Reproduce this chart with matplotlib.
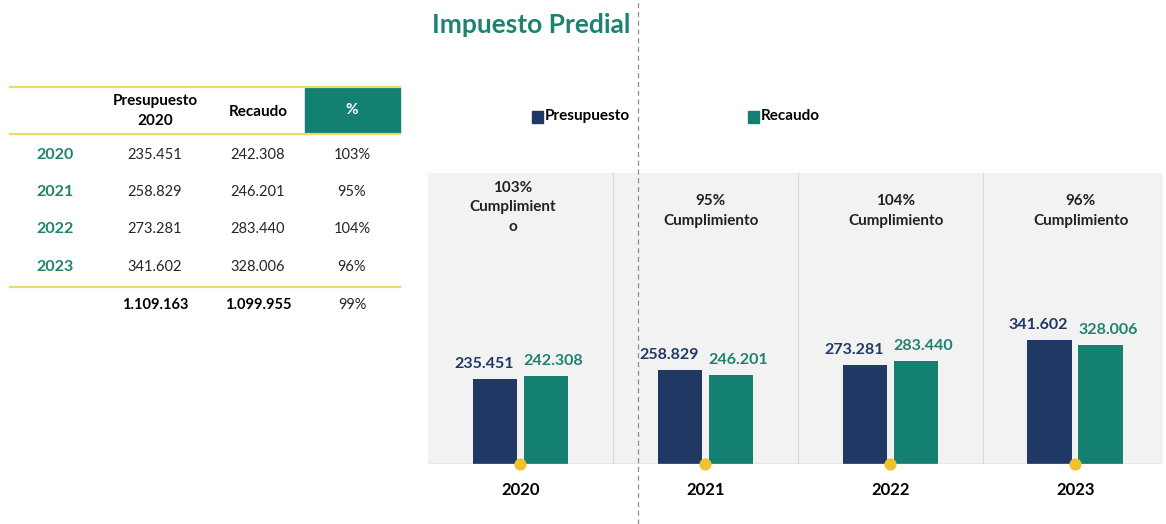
import numpy as np
import matplotlib.pyplot as plt
from matplotlib.lines import Line2D
from matplotlib.patches import Rectangle

plt.rcParams['font.family'] = ['Lato', 'DejaVu Sans']

# data
years = ['2020', '2021', '2022', '2023']
presupuesto = [235.451, 258.829, 273.281, 341.602]
recaudo = [242.308, 246.201, 283.440, 328.006]
cumplimiento = ['103%', '95%', '104%', '96%']
total_presupuesto = '1.109.163'
total_recaudo = '1.099.955'
total_pct = '99%'

NAVY = '#1F3864'
TEAL = '#138071'
TEAL_TXT = '#1E8270'
GOLD = '#F2C12E'
W, H = 1166, 524


def fx(px):
    return px / W


def fy(py):
    return 1 - py / H


def fmt(v):
    return f'{v:.3f}'


fig = plt.figure(figsize=(W / 100, H / 100), dpi=100)

# ---- bar chart
ax = fig.add_axes([fx(428), fy(464), fx(1163) - fx(428), fy(173) - fy(464)])
ax.set_facecolor('#F2F2F2')
x = np.arange(len(years))
bw = 0.24
off = 0.138
ax.bar(x - off, presupuesto, bw, color=NAVY, zorder=2)
ax.bar(x + off, recaudo, bw, color=TEAL, zorder=2)
ax.set_xlim(-0.5, 3.475)
ax.set_ylim(0, 802)
for i in range(len(years)):
    ax.text(x[i] - off - 0.06, presupuesto[i] + 22, fmt(presupuesto[i]), ha='center', va='bottom',
            color=NAVY, fontsize=11.5, fontweight='bold')
    ax.text(x[i] + off + 0.04, recaudo[i] + 22, fmt(recaudo[i]), ha='center', va='bottom',
            color=TEAL_TXT, fontsize=11.5, fontweight='bold')
    if i == 0:
        lbl = cumplimiento[i] + '\nCumplimient\no'
        ax.text(x[i] - 0.04, 707, lbl, ha='center', va='center', fontsize=11,
                fontweight='bold', color='#222222', linespacing=1.5)
    else:
        lbl = cumplimiento[i] + '\nCumplimiento'
        ax.text(x[i] + 0.03, 697, lbl, ha='center', va='center', fontsize=11,
                fontweight='bold', color='#222222', linespacing=1.5)
    if i > 0:
        ax.axvline(i - 0.5, color='#D9D9D9', lw=0.8, zorder=1)
ax.scatter(x, np.zeros(len(x)), s=60, color=GOLD, zorder=4, clip_on=False)
ax.axhline(0, color='#BFBFBF', lw=1, zorder=3)
ax.set_xticks(x)
ax.set_xticklabels(years, fontsize=12, fontweight='bold')
ax.tick_params(axis='x', length=0, pad=13)
ax.set_yticks([])
for s in ax.spines.values():
    s.set_visible(False)

# title and legend
fig.text(fx(432), fy(25), 'Impuesto Predial', fontsize=19, fontweight='bold',
         color=TEAL_TXT, ha='left', va='center')
fig.patches.append(Rectangle((fx(532), fy(123)), fx(11), 12 / H, color=NAVY, transform=fig.transFigure))
fig.text(fx(545), fy(116), 'Presupuesto', fontsize=11, fontweight='bold', va='center')
fig.patches.append(Rectangle((fx(748), fy(123)), fx(11), 12 / H, color=TEAL, transform=fig.transFigure))
fig.text(fx(761), fy(116), 'Recaudo', fontsize=11, fontweight='bold', va='center')

# dashed divider
fig.add_artist(Line2D([fx(638), fx(638)], [0, 1], color='#8C8C8C', lw=0.9, ls=(0, (4, 3))))

# ---- table
fig.patches.append(Rectangle((fx(305), fy(133)), fx(400) - fx(305), 46 / H, color=TEAL,
                             transform=fig.transFigure))
for yl in [87, 134, 287]:
    fig.add_artist(Line2D([fx(10), fx(400)], [fy(yl), fy(yl)], color='#F0D86A', lw=1.6))
fig.text(fx(155), fy(111), 'Presupuesto\n2020', fontsize=11, fontweight='bold',
         ha='center', va='center', linespacing=1.55)
fig.text(fx(258), fy(112), 'Recaudo', fontsize=11, fontweight='bold', ha='center', va='center')
fig.text(fx(352), fy(110), '%', fontsize=11, fontweight='bold', ha='center', va='center', color='white')

row_y = [155, 192, 229, 267]
for i in range(len(years)):
    fig.text(fx(55), fy(row_y[i]), years[i], fontsize=11.5, fontweight='bold', color=TEAL_TXT,
             ha='center', va='center')
    fig.text(fx(155), fy(row_y[i]), fmt(presupuesto[i]), fontsize=10.5, color='#262626',
             ha='center', va='center')
    fig.text(fx(258), fy(row_y[i]), fmt(recaudo[i]), fontsize=10.5, color='#262626',
             ha='center', va='center')
    fig.text(fx(352), fy(row_y[i]), cumplimiento[i], fontsize=10.5, color='#262626',
             ha='center', va='center')
fig.text(fx(155), fy(305), total_presupuesto, fontsize=10.5, fontweight='bold', ha='center', va='center')
fig.text(fx(258), fy(305), total_recaudo, fontsize=10.5, fontweight='bold', ha='center', va='center')
fig.text(fx(352), fy(305), total_pct, fontsize=10.5, color='#262626', ha='center', va='center')

fig.savefig('out.png', dpi=100)
